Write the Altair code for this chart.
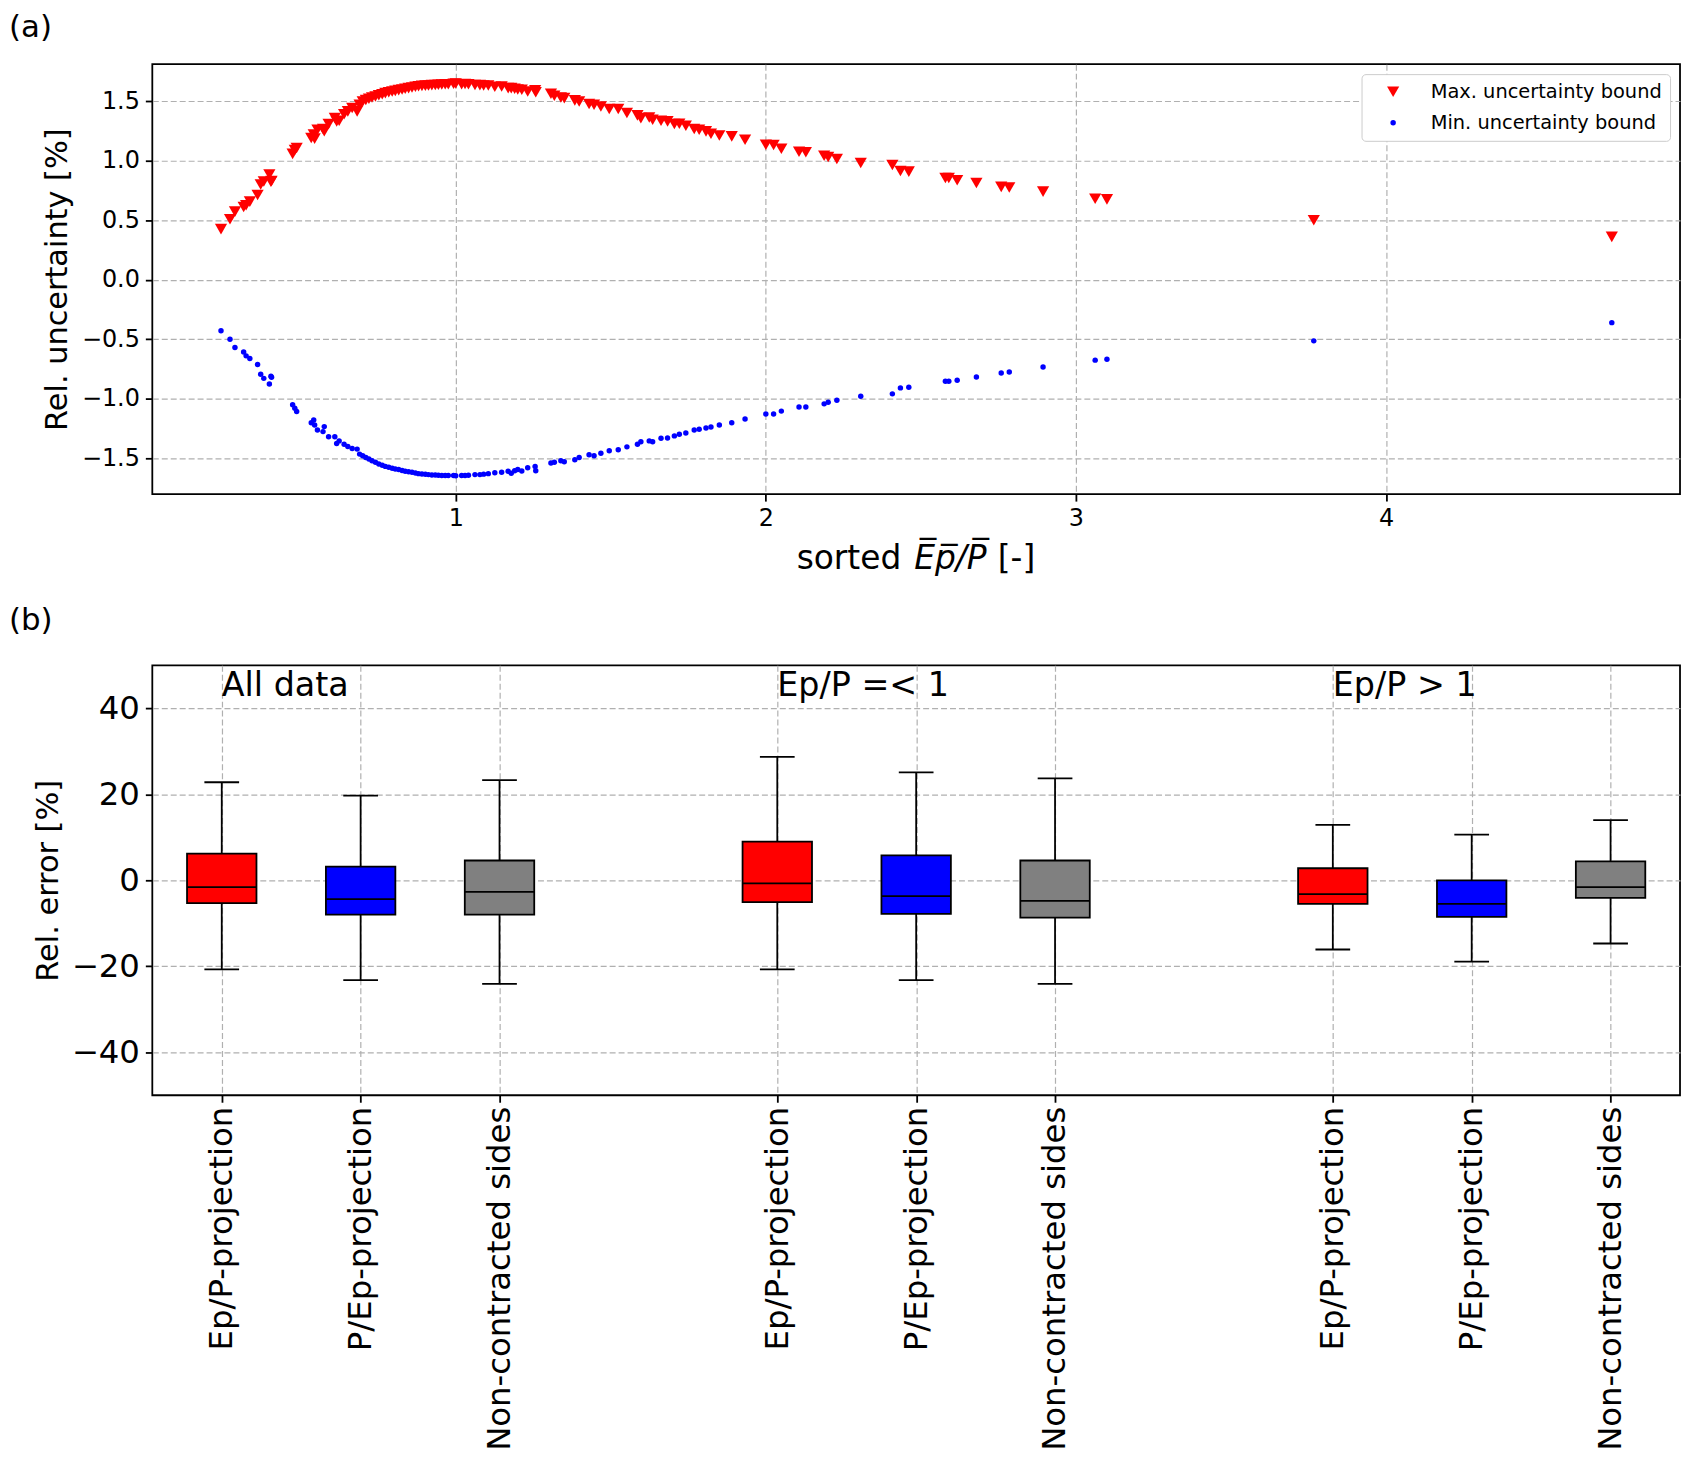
import json

import altair as alt
import pandas as pd

# ---------------- panel (a): uncertainty bounds vs sorted Ep/P
ep_p = [
    0.243, 0.272, 0.288, 0.316, 0.324, 0.336, 0.361, 0.371, 0.381, 0.399,
    0.404, 0.406, 0.474, 0.481, 0.487, 0.534, 0.542, 0.545, 0.554, 0.572,
    0.576, 0.590, 0.610, 0.616, 0.624, 0.640, 0.652, 0.666, 0.682, 0.690,
    0.700, 0.710, 0.720, 0.730, 0.741, 0.752, 0.763, 0.773, 0.784, 0.795,
    0.805, 0.816, 0.827, 0.837, 0.848, 0.859, 0.870, 0.880, 0.891, 0.902,
    0.912, 0.923, 0.934, 0.944, 0.955, 0.966, 0.976, 0.993, 1.000, 1.019,
    1.030, 1.041, 1.062, 1.078, 1.090, 1.105, 1.126, 1.148, 1.169, 1.179,
    1.190, 1.200, 1.213, 1.232, 1.256, 1.258, 1.307, 1.318, 1.339, 1.350,
    1.384, 1.398, 1.430, 1.446, 1.468, 1.495, 1.524, 1.552, 1.586, 1.597,
    1.624, 1.635, 1.662, 1.683, 1.705, 1.721, 1.742, 1.769, 1.785, 1.807,
    1.823, 1.850, 1.890, 1.933, 2.000, 2.025, 2.050, 2.107, 2.129, 2.188,
    2.201, 2.229, 2.306, 2.408, 2.434, 2.461, 2.579, 2.590, 2.617, 2.679,
    2.759, 2.785, 2.894, 3.062, 3.100, 3.767, 4.728,
]
max_bound = [
    0.425, 0.508, 0.572, 0.611, 0.625, 0.656, 0.712, 0.800, 0.825, 0.884,
    0.823, 0.830, 1.057, 1.090, 1.107, 1.190, 1.219, 1.185, 1.260, 1.265,
    1.247, 1.308, 1.358, 1.330, 1.335, 1.390, 1.414, 1.442, 1.414, 1.470,
    1.497, 1.510, 1.519, 1.530, 1.539, 1.549, 1.558, 1.567, 1.575, 1.581,
    1.586, 1.592, 1.597, 1.604, 1.609, 1.615, 1.620, 1.624, 1.628, 1.630,
    1.631, 1.634, 1.636, 1.638, 1.639, 1.641, 1.642, 1.645, 1.648, 1.642,
    1.644, 1.642, 1.636, 1.634, 1.631, 1.631, 1.620, 1.622, 1.609, 1.609,
    1.603, 1.597, 1.595, 1.581, 1.590, 1.575, 1.561, 1.545, 1.530, 1.525,
    1.506, 1.497, 1.475, 1.469, 1.455, 1.433, 1.433, 1.400, 1.380, 1.357,
    1.363, 1.344, 1.335, 1.330, 1.307, 1.310, 1.293, 1.265, 1.260, 1.246,
    1.226, 1.212, 1.204, 1.176, 1.134, 1.131, 1.100, 1.075, 1.070, 1.042,
    1.031, 1.014, 0.980, 0.964, 0.913, 0.908, 0.855, 0.855, 0.835, 0.813,
    0.780, 0.775, 0.740, 0.680, 0.675, 0.500, 0.360,
]
min_bound = [
    -0.428, -0.500, -0.569, -0.606, -0.639, -0.661, -0.711, -0.794, -0.828, -0.875,
    -0.811, -0.819, -1.050, -1.078, -1.106, -1.200, -1.178, -1.219, -1.261, -1.275,
    -1.233, -1.319, -1.319, -1.375, -1.353, -1.381, -1.400, -1.417, -1.422, -1.464,
    -1.478, -1.492, -1.505, -1.519, -1.533, -1.547, -1.557, -1.567, -1.575, -1.583,
    -1.589, -1.594, -1.601, -1.608, -1.612, -1.617, -1.623, -1.628, -1.631, -1.633,
    -1.636, -1.639, -1.640, -1.642, -1.643, -1.644, -1.644, -1.644, -1.645, -1.644,
    -1.643, -1.642, -1.636, -1.636, -1.632, -1.628, -1.620, -1.617, -1.608, -1.625,
    -1.603, -1.594, -1.606, -1.578, -1.567, -1.603, -1.539, -1.533, -1.519, -1.528,
    -1.511, -1.492, -1.469, -1.478, -1.456, -1.436, -1.428, -1.403, -1.381, -1.361,
    -1.353, -1.361, -1.331, -1.328, -1.311, -1.297, -1.287, -1.262, -1.256, -1.244,
    -1.236, -1.219, -1.200, -1.169, -1.128, -1.128, -1.103, -1.069, -1.069, -1.042,
    -1.028, -1.011, -0.978, -0.958, -0.908, -0.903, -0.853, -0.853, -0.844, -0.817,
    -0.783, -0.775, -0.733, -0.675, -0.667, -0.513, -0.360,
]
series = ["Max. uncertainty bound", "Min. uncertainty bound"]

# ---------------- panel (b): relative error box statistics
box_pos = [1, 2, 3, 5, 6, 7, 9, 10, 11]
box_method = [
    "Ep/P-projection", "P/Ep-projection", "Non-contracted sides",
    "Ep/P-projection", "P/Ep-projection", "Non-contracted sides",
    "Ep/P-projection", "P/Ep-projection", "Non-contracted sides",
]
whisker_low = [-20.7, -23.2, -24.1, -20.7, -23.2, -24.1, -16.1, -18.9, -14.7]
q1 = [-5.3, -8.0, -8.0, -5.1, -7.8, -8.7, -5.5, -8.5, -4.1]
median = [-1.6, -4.4, -2.7, -0.7, -3.7, -4.8, -3.2, -5.5, -1.6]
q3 = [6.2, 3.2, 4.6, 9.0, 5.8, 4.6, 2.8, 0.0, 4.4]
whisker_high = [22.8, 19.7, 23.3, 28.7, 25.1, 23.7, 12.9, 10.6, 14.0]
group_names = ["All data", "Ep/P =< 1", "Ep/P > 1"]
group_pos = [1, 5, 9]
methods = ["Ep/P-projection", "P/Ep-projection", "Non-contracted sides"]

FONT = "DejaVu Sans"
W, H = 1535, 432
LEFT = 144  # from the panel letters to the plot frame

# ---------------- (a)
scatter_df = pd.concat([
    pd.DataFrame({"x": ep_p, "y": max_bound, "series": series[0]}),
    pd.DataFrame({"x": ep_p, "y": min_bound, "series": series[1]}),
])

points = alt.Chart(scatter_df).mark_point(filled=True, opacity=1, strokeWidth=0).encode(
    x=alt.X("x:Q", title=None,
            scale=alt.Scale(domain=[0.0215, 4.948], nice=False, zero=False),
            axis=alt.Axis(values=[1, 2, 3, 4], format="d", labelFontSize=24,
                          labelPadding=6, labelFlush=False)),
    y=alt.Y("y:Q", title="Rel. uncertainty [%]",
            scale=alt.Scale(domain=[-1.80, 1.81], nice=False, zero=False),
            axis=alt.Axis(values=[-1.5, -1.0, -0.5, 0.0, 0.5, 1.0, 1.5], format=".1f",
                          labelFontSize=24, titleFontSize=30.5, titleX=-95, titleY=H / 2,
                          titleAlign="center", titleBaseline="middle")),
    color=alt.Color("series:N", title=None,
                    scale=alt.Scale(domain=series, range=["#ff0000", "#0000ff"])),
    shape=alt.Shape("series:N", title=None,
                    scale=alt.Scale(domain=series, range=["triangle-down", "circle"])),
    size=alt.Size("series:N", title=None,
                  scale=alt.Scale(domain=series, range=[150, 30])),
)

note = pd.DataFrame({"t": [""]})
label_a = alt.Chart(note).mark_text(align="left", baseline="top", fontSize=31).encode(
    x=alt.value(-LEFT), y=alt.value(-51), text=alt.value("(a)"))
xt_1 = alt.Chart(note).mark_text(align="right", baseline="middle", fontSize=33).encode(
    x=alt.value(W / 2 - 15), y=alt.value(H + 65), text=alt.value("sorted"))
xt_2 = alt.Chart(note).mark_text(align="left", baseline="middle", fontSize=33,
                                 fontStyle="italic").encode(
    x=alt.value(W / 2 - 2), y=alt.value(H + 65), text=alt.value("E\u0305p\u0305/P\u0305"))
xt_3 = alt.Chart(note).mark_text(align="left", baseline="middle", fontSize=33).encode(
    x=alt.value(W / 2 + 82), y=alt.value(H + 65), text=alt.value("[-]"))

top = alt.layer(points, label_a, xt_1, xt_2, xt_3).properties(width=W, height=H)

# ---------------- (b)
box_df = pd.DataFrame({
    "pos": box_pos, "method": box_method, "wlo": whisker_low, "q1": q1,
    "med": median, "q3": q3, "whi": whisker_high,
})
label_arr = [""] * 12
for p, m in zip(box_pos, box_method):
    label_arr[p] = m

sx = alt.Scale(domain=[0.5, 11.5], nice=False, zero=False)
sy = alt.Scale(domain=[-50, 50], nice=False, zero=False)
ax_x = alt.Axis(values=box_pos, labelExpr=json.dumps(label_arr) + "[datum.value]",
                labelAngle=-90, labelFontSize=32.5, labelOverlap=False, labelFlush=False,
                labelPadding=4, labelLimit=600)
ax_y = alt.Axis(values=[-40, -20, 0, 20, 40], labelFontSize=32.5, titleFontSize=30.5,
                titleX=-104, titleY=H / 2, titleAlign="center", titleBaseline="middle")


def bx(field):
    return alt.X(field, type="quantitative", scale=sx, axis=ax_x, title=None)


def by(field):
    return alt.Y(field, type="quantitative", scale=sy, axis=ax_y, title="Rel. error [%]")


base = alt.Chart(box_df).transform_calculate(
    lo="datum.pos - 0.25", hi="datum.pos + 0.25",
    clo="datum.pos - 0.125", chi="datum.pos + 0.125",
)
whisk = base.mark_rule(color="black", strokeWidth=1.8).encode(x=bx("pos"), y=by("wlo"), y2="whi:Q")
cap_lo = base.mark_rule(color="black", strokeWidth=1.8).encode(x=bx("clo"), x2="chi:Q", y=by("wlo"))
cap_hi = base.mark_rule(color="black", strokeWidth=1.8).encode(x=bx("clo"), x2="chi:Q", y=by("whi"))
box = base.mark_rect(stroke="black", strokeWidth=1.8, opacity=1).encode(
    x=bx("lo"), x2="hi:Q", y=by("q1"), y2="q3:Q",
    color=alt.Color("method:N", legend=None,
                    scale=alt.Scale(domain=methods, range=["#ff0000", "#0000ff", "#808080"])),
)
med = base.mark_rule(color="black", strokeWidth=1.8).encode(x=bx("lo"), x2="hi:Q", y=by("med"))

group_df = pd.DataFrame({"gpos": group_pos, "name": group_names})
groups = alt.Chart(group_df).mark_text(align="left", baseline="alphabetic", fontSize=33.5).encode(
    x=bx("gpos"), y=alt.datum(42.8), text="name:N")
label_b = alt.Chart(note).mark_text(align="left", baseline="top", fontSize=31).encode(
    x=alt.value(-LEFT), y=alt.value(-59), text=alt.value("(b)"))

bottom = alt.layer(whisk, cap_lo, cap_hi, box, med, groups, label_b).properties(width=W, height=H)

chart = (
    alt.vconcat(top, bottom, spacing=28)
    .resolve_scale(color="independent", shape="independent", size="independent")
    .properties(padding={"left": 0, "top": 0, "right": 2, "bottom": 0})
    .configure(font=FONT)
    .configure_view(stroke="black", strokeWidth=1.8)
    .configure_axis(domain=False, tickColor="black", tickSize=7, tickWidth=1.8,
                    labelPadding=6, labelColor="black", titleColor="black",
                    titleFontWeight="normal", gridColor="#b0b0b0", gridDash=[6, 3],
                    gridWidth=1.2, labelFont=FONT, titleFont=FONT)
    .configure_legend(orient="top-right", offset=10, padding=8, strokeColor="#cccccc",
                      fillColor="white", cornerRadius=4, labelFontSize=19.5, labelFont=FONT,
                      labelColor="black", rowPadding=10, symbolOffset=14, labelOffset=28,
                      symbolStrokeWidth=0, labelLimit=400)
    .configure_text(font=FONT, color="black")
)

chart.save("out.html", embed_options={"renderer": "svg", "actions": False})
